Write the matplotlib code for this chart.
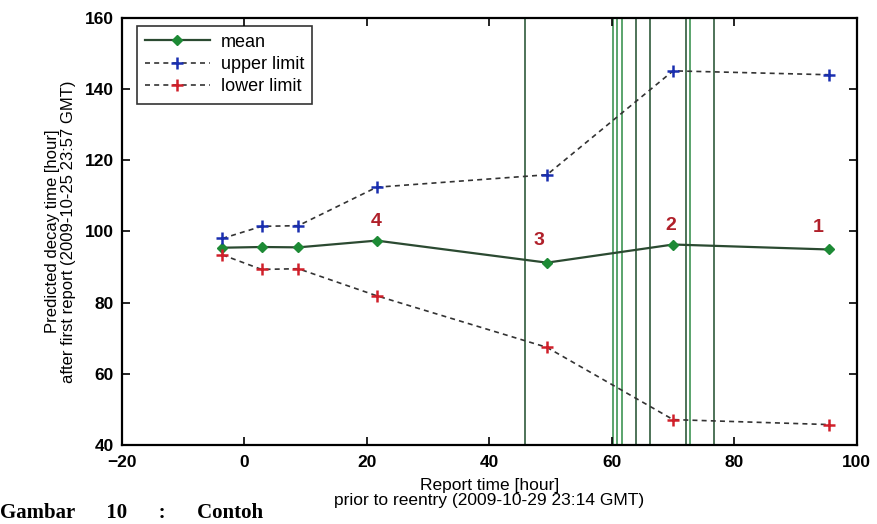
import matplotlib
matplotlib.use("Agg")
import matplotlib.pyplot as plt

# values
report_time = [-3.6, 2.8, 8.8, 21.6, 49.4, 70.0, 95.5]
mean_decay = [95.4, 95.6, 95.5, 97.4, 91.2, 96.3, 94.9]
upper_limit = [98.0, 101.4, 101.6, 112.4, 115.9, 145.1, 144.0]
lower_limit = [93.4, 89.3, 89.5, 81.9, 67.4, 47.1, 45.7]

# report numbers written above the later points
report_labels = ["4", "3", "2", "1"]
report_label_idx = [3, 4, 5, 6]

# vertical lines (report epochs)
vline_times = [45.8, 60.2, 60.9, 61.7, 64.0, 66.2, 72.1, 72.7, 76.6]
vline_colors = ["#1e4d2b", "#2e8b45", "#2e8b45", "#2e8b45", "#1e4d2b",
                "#1e4d2b", "#1e4d2b", "#2e8b45", "#1e4d2b"]

plt.rcParams["font.family"] = ["Liberation Sans", "DejaVu Sans"]

fig = plt.figure(figsize=(8.77, 5.24), dpi=100)
ax = fig.add_axes([0.139, 0.151, 0.838, 0.815])

for t, c in zip(vline_times, vline_colors):
    ax.axvline(t, color=c, lw=1.1, zorder=1)

ax.plot(report_time, mean_decay, color="#2b4a31", lw=1.6, marker="D",
        markersize=5, markerfacecolor="#1d8a35", markeredgecolor="#1d8a35",
        label="mean", zorder=3)
ax.plot(report_time, upper_limit, color="#333333", lw=1.2, ls=(0, (3, 2.5)),
        marker="+", markersize=9, markeredgecolor="#1a2fb0",
        markeredgewidth=1.8, label="upper limit", zorder=3)
ax.plot(report_time, lower_limit, color="#333333", lw=1.2, ls=(0, (3, 2.5)),
        marker="+", markersize=9, markeredgecolor="#d0202a",
        markeredgewidth=1.8, label="lower limit", zorder=3)

offsets = [(0, 14), (-6, 16), (-2, 14), (-8, 16)]
for lab, i, off in zip(report_labels, report_label_idx, offsets):
    ax.annotate(lab, (report_time[i], mean_decay[i]), xytext=off,
                textcoords="offset points", ha="center", va="center",
                fontsize=14, color="#b0202a", fontweight="bold")

ax.set_xlim(-20, 100)
ax.set_ylim(40, 160)
ax.set_xticks([-20, 0, 20, 40, 60, 80, 100])
ax.set_yticks([40, 60, 80, 100, 120, 140, 160])
ax.tick_params(direction="in", top=True, right=True, length=6, width=1.2,
               labelsize=12.5)
ax.tick_params(axis="x", pad=7)
ax.tick_params(axis="y", pad=6)
for lab in ax.get_xticklabels() + ax.get_yticklabels():
    lab.set_fontweight("bold")
for s in ax.spines.values():
    s.set_linewidth(1.6)

ax.set_xlabel("Report time [hour]\nprior to reentry (2009-10-29 23:14 GMT)",
              fontsize=12.5, labelpad=6, linespacing=1.0)
ax.set_ylabel("Predicted decay time [hour]\nafter first report (2009-10-25 23:57 GMT)",
              fontsize=12, labelpad=6, linespacing=1.1,
              family=["Liberation Sans Narrow", "Liberation Sans", "DejaVu Sans"])

leg = ax.legend(loc="upper left", bbox_to_anchor=(0.02, 0.982), fontsize=13,
                frameon=True, fancybox=False, borderaxespad=0,
                handlelength=3.6, labelspacing=0.3, borderpad=0.45,
                handletextpad=0.6)
leg.get_frame().set_edgecolor("black")
leg.get_frame().set_linewidth(1.2)

fig.text(0.0, 0.002, "Gambar      10      :      Contoh", fontsize=15,
         fontweight="bold", family=["Liberation Serif", "DejaVu Serif"],
         va="bottom", ha="left")

fig.savefig("out.png", dpi=100)
